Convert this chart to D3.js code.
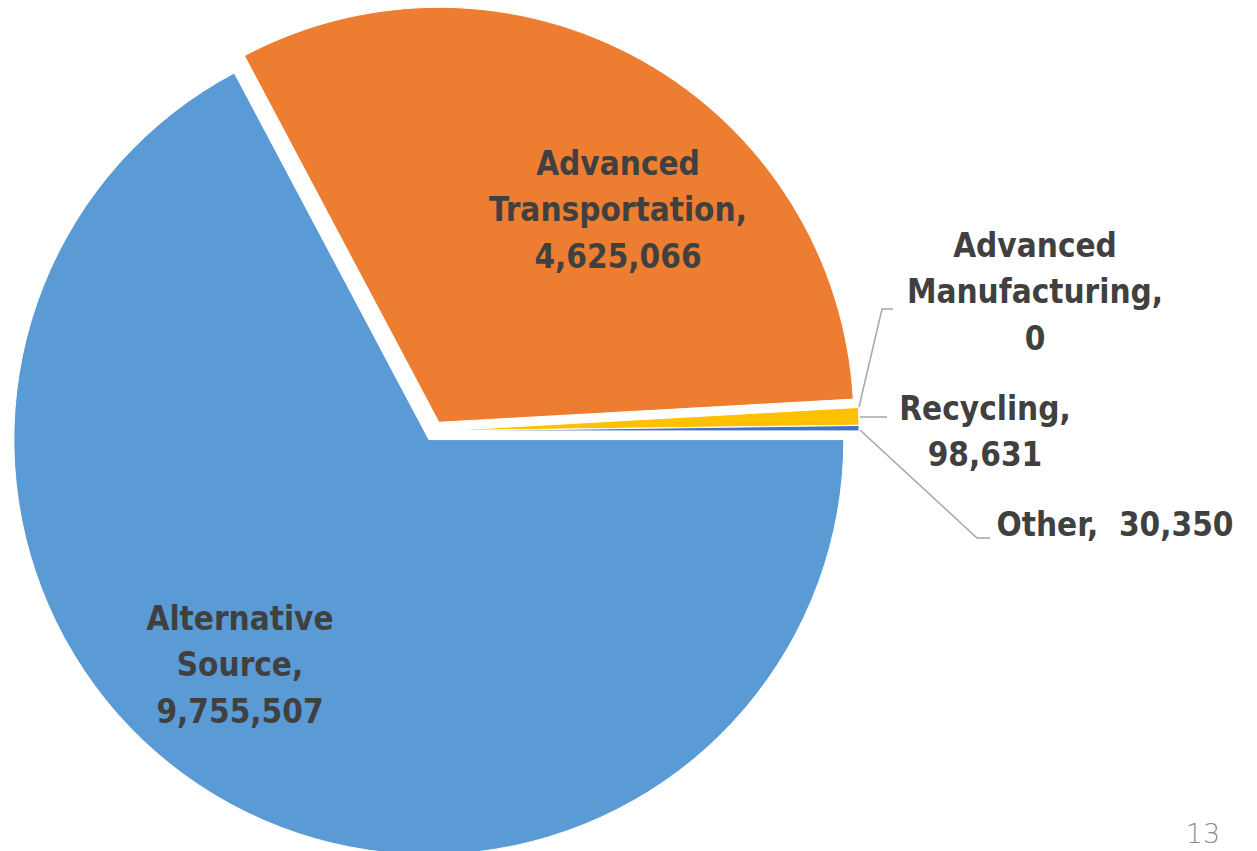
<!DOCTYPE html>
<html>
<head>
<meta charset="utf-8">
<script src="https://cdn.jsdelivr.net/npm/d3@7"></script>
<style>
  html, body { margin: 0; padding: 0; background: #fff; }
  svg { display: block; }
</style>
</head>
<body>
<div id="chart"></div>
<script>
// 数据
const categories = ["Alternative Source", "Advanced Transportation", "Advanced Manufacturing", "Recycling", "Other"];
const values = [9755507, 4625066, 0, 98631, 30350];
const colors = ["#5B9BD5", "#ED7D31", "#A5A5A5", "#FFC000", "#4472C4"];

// 标签位置（标签中心，行高）
const labelPos = [
  { x: 240, y: 618, lines: ["Alternative", "Source,", "9,755,507"] },
  { x: 618, y: 163, lines: ["Advanced", "Transportation,", "4,625,066"] },
  { x: 1035, y: 245, lines: ["Advanced", "Manufacturing,", "0"] },
  { x: 985, y: 408, lines: ["Recycling,", "98,631"] },
  { x: 1115, y: 524, lines: ["Other,\u00a0\u00a030,350"] }
];

document.addEventListener("DOMContentLoaded", () => {
    const width = 1257, height = 851;
    const cx = 434, cy = 431, radius = 415, explode = 10;
    const lineH = 46.5;

    const svg = d3.select("#chart").append("svg")
        .attr("width", width)
        .attr("height", height);

    const pie = d3.pie()
        .sort(null)
        .value(d => d.value)
        .startAngle(Math.PI / 2)
        .endAngle(Math.PI / 2 + 2 * Math.PI);

    const data = pie(categories.map((c, i) => ({ name: c, value: values[i], color: colors[i] })));

    const arc = d3.arc().innerRadius(0).outerRadius(radius);

    const g = svg.append("g").attr("transform", `translate(${cx},${cy})`);

    // 扇区（全部分离）
    g.selectAll("path")
        .data(data.filter(d => d.data.value > 0))
        .join("path")
        .attr("d", arc)
        .attr("fill", d => d.data.color)
        .attr("stroke", "#fff")
        .attr("stroke-width", 1)
        .attr("transform", d => {
            const a = (d.startAngle + d.endAngle) / 2;
            return `translate(${explode * Math.sin(a)},${-explode * Math.cos(a)})`;
        });

    // 引导线
    const leader = [
        [[859, 407], [882, 309], [893, 309]],
        [[860, 417], [887, 417]],
        [[860, 430], [977, 538], [990, 538]]
    ];
    svg.append("g")
        .selectAll("path")
        .data(leader)
        .join("path")
        .attr("d", d3.line())
        .attr("fill", "none")
        .attr("stroke", "#A6A6A6")
        .attr("stroke-width", 1.5);

    // 数据标签
    const labels = svg.append("g")
        .attr("font-family", "'DejaVu Sans Condensed', 'DejaVu Sans', sans-serif")
        .attr("font-weight", "bold")
        .attr("font-size", 33)
        .attr("fill", "#404040")
        .attr("text-anchor", "middle");

    labelPos.forEach(p => {
        const t = labels.append("text")
            .attr("x", p.x)
            .attr("y", p.y);
        p.lines.forEach((ln, i) => {
            t.append("tspan")
                .attr("x", p.x)
                .attr("y", p.y + i * lineH)
                .attr("dy", "0.36em")
                .text(ln);
        });
    });

    // 页码
    svg.append("text")
        .attr("x", 1203)
        .attr("y", 843)
        .attr("text-anchor", "middle")
        .attr("font-family", "'DejaVu Sans', sans-serif")
        .attr("font-weight", 300)
        .attr("font-size", 27)
        .attr("fill", "#8C8C8C")
        .text("13");
});
</script>
</body>
</html>
